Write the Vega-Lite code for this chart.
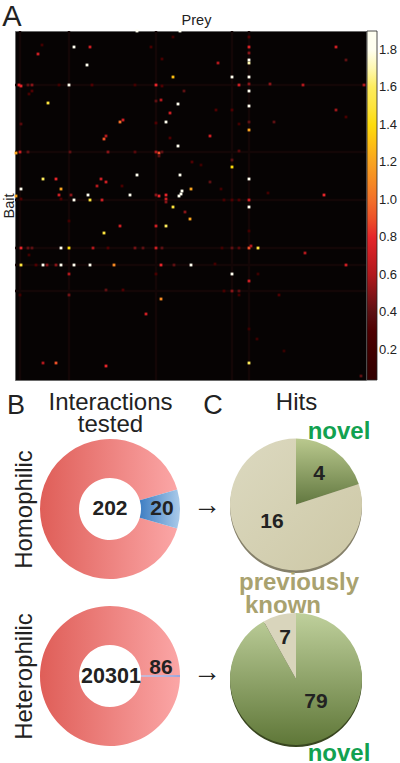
{"$schema":"https://vega.github.io/schema/vega-lite/v6.json","padding":{"left":0,"top":2,"right":0,"bottom":0},"background":"#ffffff","config":{"font":"Liberation Sans"},"bounds":"flush","spacing":57,"vconcat":[{"width":351,"height":349,"view":{"fill":"#060303","stroke":"#6a6a6a"},"layer":[{"data":{"values":[{"prey":5},{"prey":217},{"prey":234},{"prey":54},{"prey":141}]},"mark":{"type":"rule","strokeWidth":2.5,"opacity":1},"encoding":{"color":{"value":"#130606"},"x":{"field":"prey","type":"quantitative","scale":{"domain":[0,351],"nice":false,"zero":false},"axis":{"title":"Prey","orient":"top","labels":false,"ticks":false,"domain":false,"grid":false,"titleFontSize":14.5,"titleFontWeight":"normal","titleColor":"#222222","titlePadding":4,"titleX":181}}}},{"data":{"values":[{"bait":54},{"bait":121},{"bait":169},{"bait":217},{"bait":234},{"bait":260}]},"mark":{"type":"rule","strokeWidth":2.5,"opacity":1},"encoding":{"color":{"value":"#130606"},"y":{"field":"bait","type":"quantitative","scale":{"domain":[0,349],"nice":false,"zero":false,"reverse":true},"axis":{"title":"Bait","labels":false,"ticks":false,"domain":false,"grid":false,"titleFontSize":14.5,"titleFontWeight":"normal","titleColor":"#222222","titlePadding":-1}}}},{"data":{"values":[{"prey":59,"bait":16,"value":1.9},{"prey":75,"bait":16,"value":0.7},{"prey":23,"bait":23,"value":0.7},{"prey":72,"bait":34,"value":1.9},{"prey":158,"bait":46,"value":1.3},{"prey":4,"bait":54,"value":0.8},{"prey":6,"bait":55,"value":0.8},{"prey":13,"bait":54,"value":0.4},{"prey":17,"bait":54,"value":0.5},{"prey":54,"bait":54,"value":1.85},{"prey":141,"bait":54,"value":0.8},{"prey":77,"bait":54,"value":0.3},{"prey":44,"bait":54,"value":0.2},{"prey":147,"bait":55,"value":0.3},{"prey":120,"bait":54,"value":0.2},{"prey":169,"bait":60,"value":0.4},{"prey":17,"bait":60,"value":0.3},{"prey":14,"bait":63,"value":0.25},{"prey":33,"bait":72,"value":1.5},{"prey":163,"bait":73,"value":1.9},{"prey":141,"bait":70,"value":0.4},{"prey":146,"bait":69,"value":0.6},{"prey":155,"bait":82,"value":0.7},{"prey":151,"bait":91,"value":1.85},{"prey":105,"bait":91,"value":1.0},{"prey":108,"bait":89,"value":0.7},{"prey":141,"bait":92,"value":0.3},{"prey":6,"bait":93,"value":0.35},{"prey":91,"bait":105,"value":0.6},{"prey":89,"bait":108,"value":0.9},{"prey":155,"bait":107,"value":0.3},{"prey":163,"bait":115,"value":1.9},{"prey":1,"bait":122,"value":1.2},{"prey":5,"bait":121,"value":0.7},{"prey":13,"bait":121,"value":0.4},{"prey":55,"bait":121,"value":0.4},{"prey":93,"bait":121,"value":0.5},{"prey":120,"bait":121,"value":0.35},{"prey":141,"bait":121,"value":0.6},{"prey":144,"bait":122,"value":0.9},{"prey":147,"bait":121,"value":0.4},{"prey":144,"bait":125,"value":0.4},{"prey":177,"bait":131,"value":0.3},{"prey":122,"bait":144,"value":1.9},{"prey":165,"bait":144,"value":1.9},{"prey":28,"bait":148,"value":1.6},{"prey":41,"bait":148,"value":0.8},{"prey":86,"bait":148,"value":0.7},{"prey":91,"bait":151,"value":0.7},{"prey":82,"bait":155,"value":0.6},{"prey":6,"bait":158,"value":1.85},{"prey":46,"bait":158,"value":1.2},{"prey":176,"bait":158,"value":1.2},{"prey":107,"bait":155,"value":0.25},{"prey":73,"bait":164,"value":1.9},{"prey":115,"bait":164,"value":1.9},{"prey":44,"bait":164,"value":0.7},{"prey":56,"bait":164,"value":0.5},{"prey":1,"bait":165,"value":1.2},{"prey":144,"bait":165,"value":0.8},{"prey":151,"bait":164,"value":0.8},{"prey":141,"bait":164,"value":0.5},{"prey":167,"bait":160,"value":1.9},{"prey":166,"bait":163,"value":1.9},{"prey":164,"bait":165,"value":1.9},{"prey":59,"bait":169,"value":1.9},{"prey":75,"bait":169,"value":1.5},{"prey":46,"bait":168,"value":0.3},{"prey":6,"bait":168,"value":0.3},{"prey":87,"bait":169,"value":0.7},{"prey":151,"bait":168,"value":0.7},{"prey":136,"bait":16,"value":0.25},{"prey":147,"bait":28,"value":0.25},{"prey":27,"bait":14,"value":0.2},{"prey":158,"bait":6,"value":0.2},{"prey":122,"bait":0,"value":1.9},{"prey":165,"bait":0,"value":1.9},{"prey":158,"bait":176,"value":1.5},{"prey":170,"bait":181,"value":0.5},{"prey":175,"bait":188,"value":1.2},{"prey":141,"bait":195,"value":0.7},{"prey":151,"bait":195,"value":1.6},{"prey":105,"bait":195,"value":0.7},{"prey":89,"bait":202,"value":1.5},{"prey":54,"bait":190,"value":0.2},{"prey":6,"bait":217,"value":0.8},{"prey":13,"bait":217,"value":0.4},{"prey":17,"bait":217,"value":0.4},{"prey":46,"bait":217,"value":1.9},{"prey":54,"bait":217,"value":1.4},{"prey":78,"bait":217,"value":0.6},{"prey":93,"bait":217,"value":0.3},{"prey":120,"bait":217,"value":0.45},{"prey":128,"bait":217,"value":0.4},{"prey":141,"bait":217,"value":0.7},{"prey":147,"bait":217,"value":0.4},{"prey":14,"bait":224,"value":0.2},{"prey":6,"bait":234,"value":1.5},{"prey":28,"bait":234,"value":1.9},{"prey":32,"bait":234,"value":0.5},{"prey":21,"bait":234,"value":0.3},{"prey":41,"bait":234,"value":0.5},{"prey":46,"bait":234,"value":1.9},{"prey":59,"bait":234,"value":1.9},{"prey":75,"bait":234,"value":1.9},{"prey":99,"bait":234,"value":1.1},{"prey":146,"bait":234,"value":0.8},{"prey":159,"bait":234,"value":0.4},{"prey":176,"bait":234,"value":1.9},{"prey":54,"bait":243,"value":0.6},{"prey":141,"bait":243,"value":0.25},{"prey":91,"bait":259,"value":0.4},{"prey":108,"bait":259,"value":0.3},{"prey":5,"bait":264,"value":0.2},{"prey":54,"bait":264,"value":0.45},{"prey":146,"bait":268,"value":1.1},{"prey":131,"bait":283,"value":0.7},{"prey":28,"bait":332,"value":0.6},{"prey":41,"bait":332,"value":0.9},{"prey":91,"bait":335,"value":0.8},{"prey":151,"bait":171,"value":0.5},{"prey":234,"bait":6,"value":0.3},{"prey":234,"bait":16,"value":0.75},{"prey":234,"bait":22,"value":0.5},{"prey":234,"bait":29,"value":1.9},{"prey":234,"bait":32,"value":1.7},{"prey":321,"bait":16,"value":0.7},{"prey":203,"bait":32,"value":0.6},{"prey":331,"bait":29,"value":0.4},{"prey":217,"bait":46,"value":1.8},{"prey":234,"bait":46,"value":1.9},{"prey":224,"bait":54,"value":0.7},{"prey":234,"bait":53,"value":0.5},{"prey":255,"bait":53,"value":0.5},{"prey":288,"bait":54,"value":0.6},{"prey":349,"bait":54,"value":0.6},{"prey":234,"bait":60,"value":1.9},{"prey":234,"bait":75,"value":1.9},{"prey":201,"bait":79,"value":0.3},{"prey":217,"bait":79,"value":0.3},{"prey":321,"bait":79,"value":0.55},{"prey":331,"bait":86,"value":0.25},{"prey":234,"bait":91,"value":0.4},{"prey":259,"bait":91,"value":0.4},{"prey":224,"bait":93,"value":0.2},{"prey":234,"bait":99,"value":1.2},{"prey":195,"bait":105,"value":0.7},{"prey":224,"bait":120,"value":0.35},{"prey":217,"bait":129,"value":0.4},{"prey":217,"bait":136,"value":1.4},{"prey":234,"bait":148,"value":1.9},{"prey":195,"bait":151,"value":0.4},{"prey":309,"bait":164,"value":0.8},{"prey":253,"bait":162,"value":0.2},{"prey":206,"bait":158,"value":0.2},{"prey":234,"bait":169,"value":0.7},{"prey":224,"bait":169,"value":0.3},{"prey":217,"bait":169,"value":0.3},{"prey":209,"bait":169,"value":0.25},{"prey":186,"bait":134,"value":0.15},{"prey":234,"bait":176,"value":1.9},{"prey":234,"bait":200,"value":0.2},{"prey":290,"bait":222,"value":0.6},{"prey":234,"bait":217,"value":0.9},{"prey":236,"bait":215,"value":0.6},{"prey":243,"bait":217,"value":1.5},{"prey":217,"bait":217,"value":0.4},{"prey":224,"bait":217,"value":0.35},{"prey":207,"bait":217,"value":0.2},{"prey":331,"bait":234,"value":0.7},{"prey":200,"bait":233,"value":0.2},{"prey":217,"bait":243,"value":1.9},{"prey":234,"bait":250,"value":0.7},{"prey":243,"bait":243,"value":0.15},{"prey":217,"bait":260,"value":0.5},{"prey":224,"bait":260,"value":0.4},{"prey":209,"bait":260,"value":0.25},{"prey":264,"bait":264,"value":0.3},{"prey":224,"bait":264,"value":0.2},{"prey":234,"bait":332,"value":1.6},{"prey":346,"bait":345,"value":0.4},{"prey":234,"bait":298,"value":0.15},{"prey":242,"bait":308,"value":0.15},{"prey":269,"bait":320,"value":0.1}]},"mark":{"type":"point","shape":"square","filled":true,"size":8,"opacity":1,"strokeWidth":0},"encoding":{"x":{"field":"prey","type":"quantitative","scale":{"domain":[0,351],"nice":false,"zero":false}},"y":{"field":"bait","type":"quantitative","scale":{"domain":[0,349],"nice":false,"zero":false,"reverse":true}},"color":{"field":"value","type":"quantitative","scale":{"domain":[0.04,0.4,0.6,0.8,1.0,1.2,1.4,1.6,1.7,1.8,1.9],"range":["#000000","#5c1012","#b0181c","#e4252a","#f2702a","#f8a320","#fddc0c","#fdec5c","#fef8b0","#fffff0","#ffffff"],"clamp":true},"legend":{"type":"gradient","orient":"none","legendX":352,"legendY":0,"direction":"vertical","title":null,"gradientLength":349,"gradientThickness":10,"gradientStrokeColor":"#222222","gradientStrokeWidth":0.8,"values":[0.2,0.4,0.6,0.8,1.0,1.2,1.4,1.6,1.8],"format":".1f","labelFontSize":13,"labelColor":"#222222","labelOffset":2}}}},{"data":{"values":[{"bait":19},{"bait":56},{"bait":94},{"bait":131},{"bait":168},{"bait":206},{"bait":244},{"bait":282},{"bait":319}]},"mark":{"type":"rule","strokeWidth":1},"encoding":{"x":{"datum":359,"type":"quantitative","scale":{"domain":[0,351],"nice":false,"zero":false}},"x2":{"datum":362},"y":{"field":"bait","type":"quantitative","scale":{"domain":[0,349],"nice":false,"zero":false,"reverse":true}},"color":{"value":"#222222"}}},{"data":{"values":[{"panel":"A"}]},"mark":{"type":"text","fontSize":29,"baseline":"alphabetic","align":"center"},"encoding":{"x":{"datum":-3,"type":"quantitative","scale":{"domain":[0,351],"nice":false,"zero":false}},"y":{"datum":-5,"type":"quantitative","scale":{"domain":[0,349],"nice":false,"zero":false,"reverse":true}},"text":{"field":"panel"},"color":{"value":"#222222"}}}]},{"width":374,"height":328,"view":{"stroke":null},"data":{"values":[{"column":"Interactions tested","row":"Homophilic","slice":"homo-hits","count":20},{"column":"Interactions tested","row":"Homophilic","slice":"homo-rest","count":202},{"column":"Hits","row":"Homophilic","slice":"homo-novel","count":4},{"column":"Hits","row":"Homophilic","slice":"homo-known","count":16},{"column":"Interactions tested","row":"Heterophilic","slice":"het-hits","count":86},{"column":"Interactions tested","row":"Heterophilic","slice":"het-rest","count":20301},{"column":"Hits","row":"Heterophilic","slice":"het-novel","count":79},{"column":"Hits","row":"Heterophilic","slice":"het-known","count":7}]},"transform":[{"stack":"count","groupby":["column","row"],"offset":"normalize","as":["start","end"]}],"encoding":{"x":{"field":"column","type":"nominal","scale":{"type":"point","domain":["Interactions tested","Hits"],"range":[95,281],"padding":0},"axis":{"orient":"top","title":null,"values":["Interactions tested","Hits"],"labelExpr":"datum.value == 'Hits' ? 'Hits' : ['Interactions','tested']","labelAngle":0,"labelAlign":"center","labelBaseline":"alphabetic","labelFontSize":24,"labelLineHeight":22,"labelColor":"#222222","labelPadding":28,"labelLimit":0,"labelOverlap":false,"ticks":false,"domain":false,"grid":false}},"y":{"field":"row","type":"nominal","scale":{"type":"point","domain":["Homophilic","Heterophilic"],"range":[72,239],"padding":0},"axis":{"title":null,"labelAngle":270,"labelAlign":"center","labelBaseline":"middle","labelFontSize":24,"labelColor":"#222222","labelPadding":-9,"labelLimit":0,"labelOverlap":false,"ticks":false,"domain":false,"grid":false}}},"resolve":{"scale":{"theta":"independent"}},"layer":[{"transform":[{"filter":"datum.slice=='homo-known'"}],"mark":{"type":"arc","radius":66,"fill":"#85806a","yOffset":-2},"encoding":{"theta":{"datum":1,"type":"quantitative","scale":{"domain":[0,1],"range":[0,6.2832]}},"theta2":{"datum":0}}},{"transform":[{"filter":"datum.slice=='het-novel'"}],"mark":{"type":"arc","radius":66,"fill":"#38451f","yOffset":5},"encoding":{"theta":{"datum":1,"type":"quantitative","scale":{"domain":[0,1],"range":[0,6.2832]}},"theta2":{"datum":0}}},{"transform":[{"filter":"datum.slice=='homo-rest'"}],"mark":{"type":"arc","radius":70,"radius2":31,"fill":{"gradient":"linear","x1":0,"y1":0,"x2":1,"y2":0,"stops":[{"offset":0,"color":"#df5e58"},{"offset":1,"color":"#fba6a6"}]}},"encoding":{"theta":{"field":"start","type":"quantitative","scale":{"domain":[0,1],"range":[1.288,7.571]}},"theta2":{"field":"end"}}},{"transform":[{"filter":"datum.slice=='homo-hits'"}],"mark":{"type":"arc","radius":70,"radius2":31,"fill":{"gradient":"linear","x1":0,"y1":0,"x2":1,"y2":0,"stops":[{"offset":0,"color":"#3e7ec3"},{"offset":1,"color":"#abcbea"}]}},"encoding":{"theta":{"field":"start","type":"quantitative","scale":{"domain":[0,1],"range":[1.288,7.571]}},"theta2":{"field":"end"}}},{"transform":[{"filter":"datum.slice=='het-rest'"}],"mark":{"type":"arc","radius":70,"radius2":31,"fill":{"gradient":"linear","x1":0,"y1":0,"x2":1,"y2":0,"stops":[{"offset":0,"color":"#df5e58"},{"offset":1,"color":"#fba6a6"}]}},"encoding":{"theta":{"field":"start","type":"quantitative","scale":{"domain":[0,1],"range":[1.557,7.84]}},"theta2":{"field":"end"}}},{"transform":[{"filter":"datum.slice=='het-hits'"}],"mark":{"type":"arc","radius":70,"radius2":31,"fill":"#9fa6da"},"encoding":{"theta":{"field":"start","type":"quantitative","scale":{"domain":[0,1],"range":[1.557,7.84]}},"theta2":{"field":"end"}}},{"transform":[{"filter":"datum.slice=='homo-novel'"}],"mark":{"type":"arc","radius":66,"yOffset":-4.5,"fill":{"gradient":"linear","x1":0,"y1":0,"x2":0,"y2":1,"stops":[{"offset":0,"color":"#bac98e"},{"offset":1,"color":"#627840"}]}},"encoding":{"theta":{"field":"start","type":"quantitative","scale":{"domain":[0,1],"range":[0,6.2832]}},"theta2":{"field":"end"}}},{"transform":[{"filter":"datum.slice=='homo-known'"}],"mark":{"type":"arc","radius":66,"yOffset":-4.5,"fill":{"gradient":"linear","x1":0,"y1":0,"x2":1,"y2":1,"stops":[{"offset":0,"color":"#dcd9c0"},{"offset":1,"color":"#cdc8a6"}]}},"encoding":{"theta":{"field":"start","type":"quantitative","scale":{"domain":[0,1],"range":[0,6.2832]}},"theta2":{"field":"end"}}},{"transform":[{"filter":"datum.slice=='het-novel'"}],"mark":{"type":"arc","radius":66,"yOffset":3,"fill":{"gradient":"linear","x1":0,"y1":0,"x2":0,"y2":1,"stops":[{"offset":0,"color":"#bfd09c"},{"offset":1,"color":"#5f7738"}]}},"encoding":{"theta":{"field":"start","type":"quantitative","scale":{"domain":[0,1],"range":[0,6.2832]}},"theta2":{"field":"end"}}},{"transform":[{"filter":"datum.slice=='het-known'"}],"mark":{"type":"arc","radius":66,"yOffset":3,"fill":"#d9d5bc"},"encoding":{"theta":{"field":"start","type":"quantitative","scale":{"domain":[0,1],"range":[0,6.2832]}},"theta2":{"field":"end"}}},{"transform":[{"filter":"datum.slice=='homo-rest'"}],"mark":{"type":"text","fontWeight":"bold","fontSize":21,"fill":"#222222","baseline":"middle","dx":0,"dy":0},"encoding":{"text":{"field":"count"}}},{"transform":[{"filter":"datum.slice=='homo-hits'"}],"mark":{"type":"text","fontWeight":"bold","fontSize":21,"fill":"#222222","baseline":"middle","dx":52,"dy":0},"encoding":{"text":{"field":"count"}}},{"transform":[{"filter":"datum.slice=='homo-known'"}],"mark":{"type":"text","fontWeight":"bold","fontSize":21,"fill":"#222222","baseline":"middle","dx":-24,"dy":13},"encoding":{"text":{"field":"count"}}},{"transform":[{"filter":"datum.slice=='homo-novel'"}],"mark":{"type":"text","fontWeight":"bold","fontSize":21,"fill":"#222222","baseline":"middle","dx":23,"dy":-35},"encoding":{"text":{"field":"count"}}},{"transform":[{"filter":"datum.slice=='het-rest'"}],"mark":{"type":"text","fontWeight":"bold","fontSize":21.5,"fill":"#222222","baseline":"middle","dx":1,"dy":1},"encoding":{"text":{"field":"count"}}},{"transform":[{"filter":"datum.slice=='het-hits'"}],"mark":{"type":"text","fontWeight":"bold","fontSize":21,"fill":"#222222","baseline":"middle","dx":51,"dy":-8},"encoding":{"text":{"field":"count"}}},{"transform":[{"filter":"datum.slice=='het-known'"}],"mark":{"type":"text","fontWeight":"bold","fontSize":21,"fill":"#222222","baseline":"middle","dx":-11,"dy":-38},"encoding":{"text":{"field":"count"}}},{"transform":[{"filter":"datum.slice=='het-novel'"}],"mark":{"type":"text","fontWeight":"bold","fontSize":21,"fill":"#222222","baseline":"middle","dx":20,"dy":26},"encoding":{"text":{"field":"count"}}},{"transform":[{"filter":"datum.slice=='homo-novel'"}],"mark":{"type":"text","fontWeight":"bold","fontSize":24,"fill":"#12a150","baseline":"alphabetic","dx":43,"dy":-70},"encoding":{"text":{"value":"novel"}}},{"transform":[{"filter":"datum.slice=='het-novel'"}],"mark":{"type":"text","fontWeight":"bold","fontSize":24,"fill":"#12a150","baseline":"alphabetic","dx":43,"dy":85},"encoding":{"text":{"value":"novel"}}},{"transform":[{"filter":"datum.slice=='het-known'"}],"mark":{"type":"text","fontWeight":"bold","fontSize":24,"fill":"#a9a26f","baseline":"alphabetic","dx":3,"dy":-86},"encoding":{"text":{"value":"previously"}}},{"transform":[{"filter":"datum.slice=='het-known'"}],"mark":{"type":"text","fontWeight":"bold","fontSize":24,"fill":"#a9a26f","baseline":"alphabetic","dx":-13,"dy":-63},"encoding":{"text":{"value":"known"}}},{"transform":[{"filter":"datum.slice=='homo-novel' || datum.slice=='het-novel'"}],"mark":{"type":"text","text":"→","fontSize":28,"fontWeight":"bold","fill":"#222222","baseline":"middle","dx":-89,"dy":-3}},{"data":{"values":[{"column":"Interactions tested","row":"Homophilic","letter":"B"},{"column":"Hits","row":"Homophilic","letter":"C"}]},"mark":{"type":"text","fontSize":27,"fill":"#222222","baseline":"alphabetic","dy":-95},"encoding":{"text":{"field":"letter"},"xOffset":{"field":"letter","type":"nominal","scale":{"domain":["B","C"],"range":[-99.5,-77.5],"type":"ordinal"}}}}]}]}
